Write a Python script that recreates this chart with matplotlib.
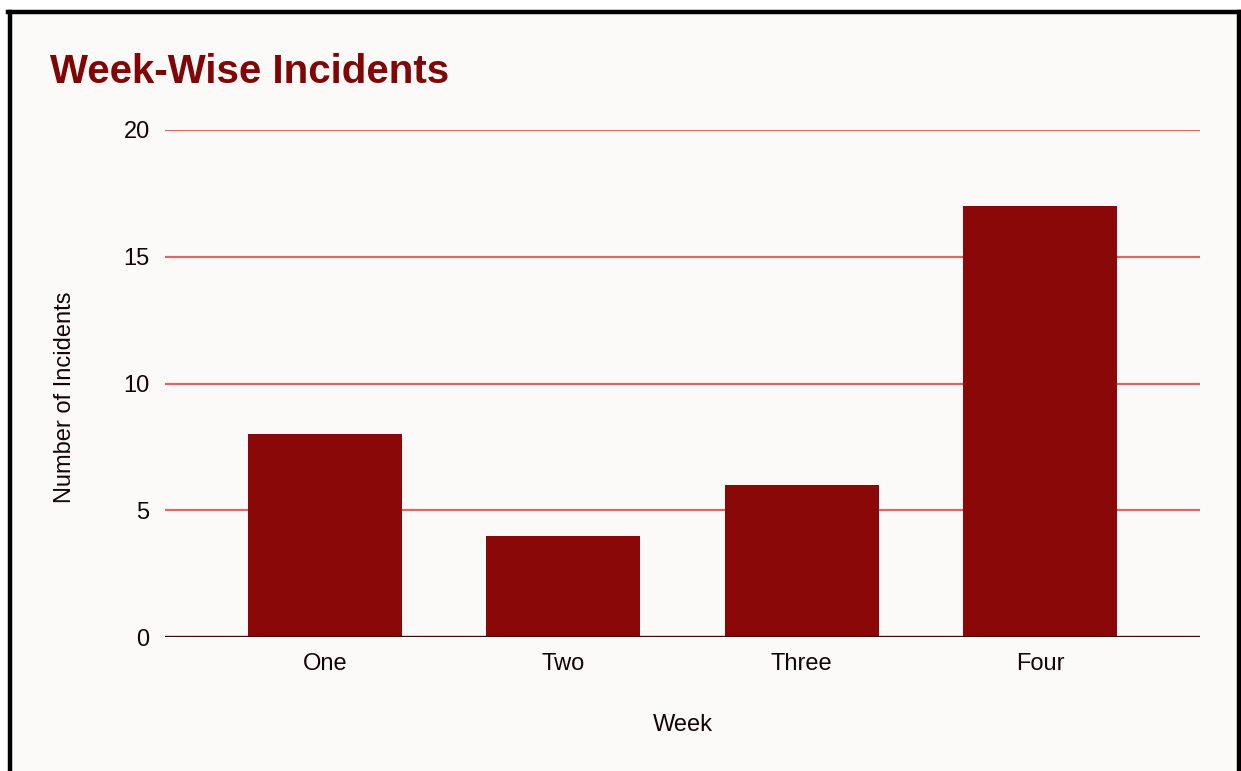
import matplotlib.pyplot as plt
from matplotlib.lines import Line2D

weeks = ['One', 'Two', 'Three', 'Four']
incidents = [8, 4, 6, 17]
y_ticks = [0, 5, 10, 15, 20]

plt.rcParams['font.family'] = ['Liberation Sans', 'DejaVu Sans']

fig = plt.figure(figsize=(12.41, 7.71), dpi=100, facecolor='white')
W, H = 1241, 771

# panel background and black frame
fig.patches.append(plt.Rectangle((10 / W, 0), (1229 / W), 1 - 12 / H,
                                 transform=fig.transFigure, facecolor='#fcfaf9',
                                 edgecolor='none', zorder=-5))
for xs, ys in [([10, 10], [12, 771]), ([8, 1241], [12, 12]), ([1239, 1239], [12, 771])]:
    fig.add_artist(Line2D([x / W for x in xs], [1 - y / H for y in ys],
                          transform=fig.transFigure, color='black', lw=3.2, zorder=5))

ax = fig.add_axes([165 / W, 1 - 637 / H, (1200 - 165) / W, (637 - 130) / H])
ax.set_facecolor('none')
ax.set_zorder(2)

x = range(len(weeks))
ax.bar(x, incidents, width=0.646, color='#8a0808', zorder=3)

ax.set_xlim(-0.67, 3.67)
ax.set_ylim(0, 20)
ax.set_yticks(y_ticks)
ax.set_xticks(list(x))
ax.set_xticklabels(weeks)
ax.grid(axis='y', color='#d96868', lw=1.6, zorder=0)
ax.set_axisbelow(True)
ax.axhline(0, color='#3a0a0a', lw=1.6, zorder=4)

for s in ax.spines.values():
    s.set_visible(False)
ax.tick_params(length=0, labelsize=17, colors='#140404')
ax.tick_params(axis='x', pad=11.5)
ax.tick_params(axis='y', pad=11)

ax.set_xlabel('Week', fontsize=17, color='#140404', labelpad=28)
ax.set_ylabel('Number of Incidents', fontsize=17, color='#140404', labelpad=34, y=0.473)

fig.text(50 / W, 1 - 72 / H, 'Week-Wise Incidents', fontsize=29, fontweight='bold',
         color='#800505', va='center', ha='left')

fig.savefig('out.png', dpi=100, facecolor=fig.get_facecolor())
